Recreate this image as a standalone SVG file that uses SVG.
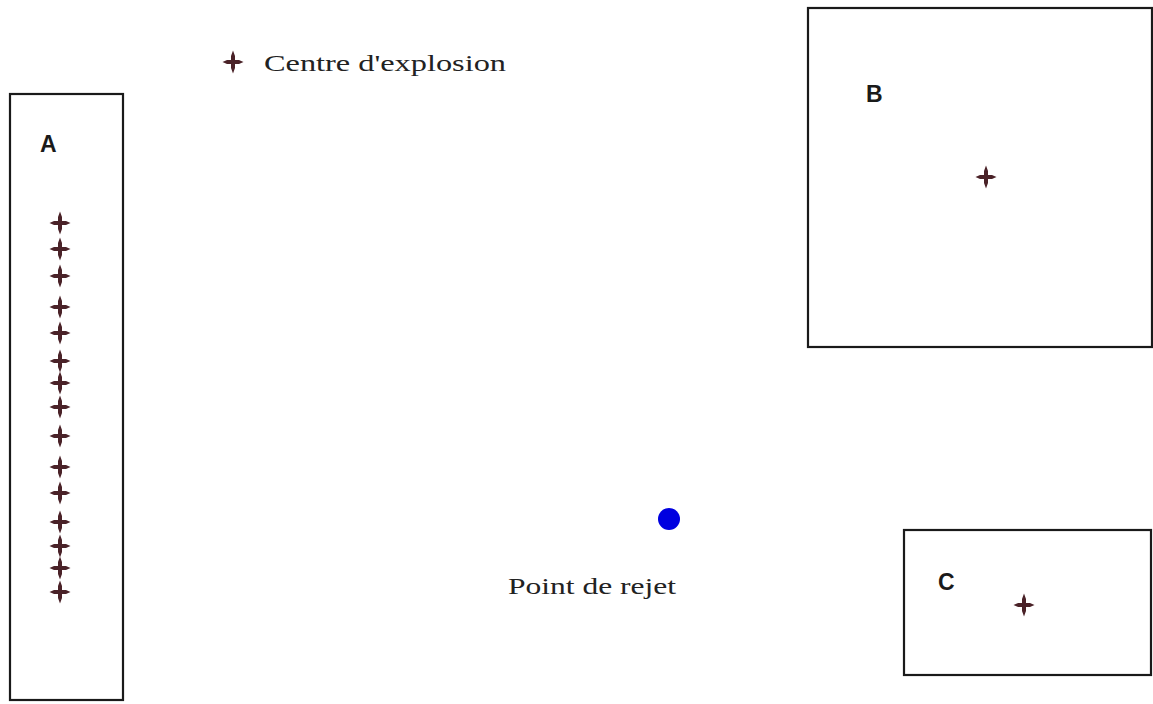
<svg xmlns="http://www.w3.org/2000/svg" xmlns:xlink="http://www.w3.org/1999/xlink" width="1153" height="704" viewBox="0 0 1153 704">
<style>
.box{fill:#fff;stroke:#1a1a1a;stroke-width:2.2}
.lbl{font-family:"Liberation Sans",Arial,sans-serif;font-size:23px;font-weight:bold;fill:#1a1a1a}
.txt{font-family:"Liberation Serif","Times New Roman",serif;font-size:24px;fill:#222}
.star{fill:#4a2228}
</style>
<defs>
<path id="x" class="star" d="M0,-11.5 L2,-6 L2,-2 L6,-2 L10.5,0 L6,2 L2,2 L2,6 L0,11.5 L-2,6 L-2,2 L-6,2 L-10.5,0 L-6,-2 L-2,-2 L-2,-6 Z"/>
</defs>
<rect width="1153" height="704" fill="#fff"/>
<g id="legend">
<use xlink:href="#x" x="233" y="62"/>
<text class="txt" x="264" y="71" textLength="242" lengthAdjust="spacingAndGlyphs">Centre d'explosion</text>
</g>
<g id="A">
<rect class="box" x="10" y="94" width="113" height="606"/>
<text class="lbl" x="40" y="152">A</text>
<use xlink:href="#x" x="60" y="223"/>
<use xlink:href="#x" x="60" y="249"/>
<use xlink:href="#x" x="60" y="276"/>
<use xlink:href="#x" x="60" y="307"/>
<use xlink:href="#x" x="60" y="333"/>
<use xlink:href="#x" x="60" y="361"/>
<use xlink:href="#x" x="60" y="383"/>
<use xlink:href="#x" x="60" y="407"/>
<use xlink:href="#x" x="60" y="436"/>
<use xlink:href="#x" x="60" y="467"/>
<use xlink:href="#x" x="60" y="493"/>
<use xlink:href="#x" x="60" y="522"/>
<use xlink:href="#x" x="60" y="546"/>
<use xlink:href="#x" x="60" y="568"/>
<use xlink:href="#x" x="60" y="592"/>
</g>
<g id="B">
<rect class="box" x="808" y="8" width="344" height="339"/>
<text class="lbl" x="866" y="102">B</text>
<use xlink:href="#x" x="986" y="177"/>
</g>
<g id="C">
<rect class="box" x="904" y="530" width="247" height="145"/>
<text class="lbl" x="938" y="590">C</text>
<use xlink:href="#x" x="1024" y="605"/>
</g>
<g id="rejet">
<circle cx="669" cy="519" r="11" fill="#0000e0"/>
<text class="txt" x="508" y="594" textLength="168" lengthAdjust="spacingAndGlyphs">Point de rejet</text>
</g>
<g id="connectors"/>
</svg>
